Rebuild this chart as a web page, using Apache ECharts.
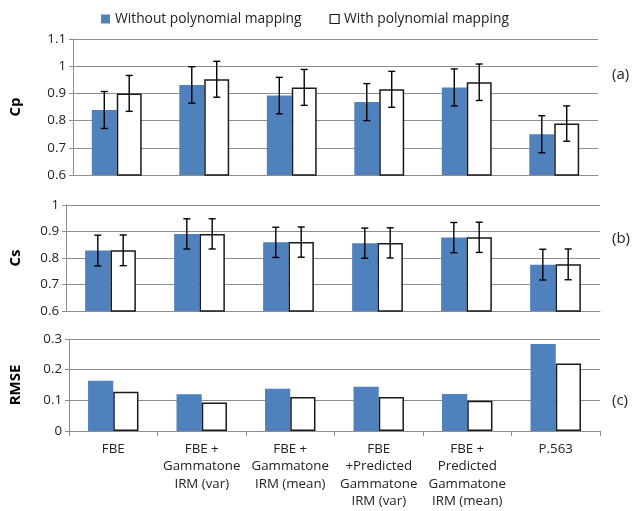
<!DOCTYPE html>
<html>
<head>
<meta charset="utf-8">
<script src="https://cdn.jsdelivr.net/npm/echarts@6/dist/echarts.min.js"></script>
<style>
html,body{margin:0;padding:0;background:#fff;}
#c{width:639px;height:511px;}
</style>
</head>
<body>
<div id="c"></div>
<script>
var categories = ['FBE', 'FBE +\nGammatone\nIRM (var)', 'FBE +\nGammatone\nIRM (mean)', 'FBE\n+Predicted\nGammatone\nIRM (var)', 'FBE +\nPredicted\nGammatone\nIRM (mean)', 'P.563'];
var seriesNames = ['Without polynomial mapping', 'With polynomial mapping'];
var panelLabels = ['(a)', '(b)', '(c)'];
var axisTitles = ['Cp', 'Cs', 'RMSE'];

var cpWithout = [0.839, 0.931, 0.892, 0.868, 0.922, 0.750];
var cpWith = [0.900, 0.952, 0.922, 0.915, 0.941, 0.789];
var cpWithoutErr = [0.068, 0.067, 0.067, 0.068, 0.068, 0.068];
var cpWithErr = [0.066, 0.066, 0.066, 0.066, 0.067, 0.065];

var csWithout = [0.828, 0.891, 0.859, 0.856, 0.877, 0.775];
var csWith = [0.829, 0.891, 0.860, 0.857, 0.878, 0.776];
var csWithoutErr = [0.058, 0.057, 0.057, 0.057, 0.057, 0.058];
var csWithErr = [0.058, 0.057, 0.057, 0.057, 0.057, 0.058];

var rmseWithout = [0.164, 0.120, 0.138, 0.144, 0.121, 0.284];
var rmseWith = [0.128, 0.093, 0.111, 0.111, 0.099, 0.220];

var BLUE = '#4f81bd';
var GRID = '#8e8e8e';
var FONT = 'Open Sans';

function errData(vals, errs) {
  return vals.map(function (v, i) { return [i, v - errs[i], v + errs[i]]; });
}
function errRender(sign) {
  return function (params, api) {
    var x = api.value(0);
    var lo = api.coord([x, api.value(1)]);
    var hi = api.coord([x, api.value(2)]);
    var band = api.size([1, 0])[0];
    var cx = lo[0] + sign * band * 0.1425;
    var cap = 3.5;
    var st = { stroke: '#000', lineWidth: 1.4, fill: null };
    return {
      type: 'group',
      children: [
        { type: 'line', shape: { x1: cx, y1: hi[1], x2: cx, y2: lo[1] }, style: st },
        { type: 'line', shape: { x1: cx - cap, y1: hi[1], x2: cx + cap, y2: hi[1] }, style: st },
        { type: 'line', shape: { x1: cx - cap, y1: lo[1], x2: cx + cap, y2: lo[1] }, style: st }
      ]
    };
  };
}

var grids = [
  { left: 68, right: 41, top: 39, height: 136 },
  { left: 61, right: 39, top: 205, height: 106 },
  { left: 61, right: 39, top: 339, height: 92 }
];
var yRanges = [[0.6, 1.1], [0.6, 1.0], [0, 0.3]];
var nameGaps = [50, 43, 46];

var xAxes = grids.map(function (g, i) {
  return {
    type: 'category', gridIndex: i, data: categories,
    axisLine: { show: true, lineStyle: { color: GRID, width: 1 } },
    axisTick: { show: i === 2, length: 5, lineStyle: { color: GRID } },
    axisLabel: {
      show: i === 2, color: '#222', fontFamily: FONT, fontSize: 13.3,
      lineHeight: 17.5, margin: 9, interval: 0
    }
  };
});
var yAxes = grids.map(function (g, i) {
  return {
    type: 'value', gridIndex: i, min: yRanges[i][0], max: yRanges[i][1], interval: 0.1,
    name: axisTitles[i], nameLocation: 'middle', nameRotate: 90, nameGap: nameGaps[i],
    nameTextStyle: { fontFamily: FONT, fontWeight: 'bold', fontSize: 15, color: '#000' },
    axisLine: { show: true, lineStyle: { color: GRID, width: 1 } },
    axisTick: { show: true, length: 4, lineStyle: { color: GRID } },
    axisLabel: { color: '#222', fontFamily: FONT, fontSize: 13.3, margin: 7 },
    splitLine: { show: true, lineStyle: { color: GRID, width: 1.2 } }
  };
});

var panelData = [
  [cpWithout, cpWith, cpWithoutErr, cpWithErr],
  [csWithout, csWith, csWithoutErr, csWithErr],
  [rmseWithout, rmseWith, null, null]
];

var series = [];
panelData.forEach(function (p, i) {
  series.push({
    name: seriesNames[0], type: 'bar', xAxisIndex: i, yAxisIndex: i, data: p[0],
    barGap: '0%', barCategoryGap: '43%',
    itemStyle: { color: BLUE }
  });
  series.push({
    name: seriesNames[1], type: 'bar', xAxisIndex: i, yAxisIndex: i, data: p[1],
    barGap: '0%', barCategoryGap: '43%',
    itemStyle: { color: '#fff', borderColor: '#1a1a1a', borderWidth: 1.5 }
  });
  if (p[2]) {
    series.push({
      type: 'custom', xAxisIndex: i, yAxisIndex: i, renderItem: errRender(-1),
      data: errData(p[0], p[2]), z: 5, silent: true
    });
    series.push({
      type: 'custom', xAxisIndex: i, yAxisIndex: i, renderItem: errRender(1),
      data: errData(p[1], p[3]), z: 5, silent: true
    });
  }
});

var labelY = [77, 241, 403];
var chart = echarts.init(document.getElementById('c'));
chart.setOption({
  animation: false,
  backgroundColor: '#fff',
  legend: {
    data: [
      { name: seriesNames[0], itemStyle: { color: BLUE } },
      { name: seriesNames[1], itemStyle: { color: '#fff', borderColor: '#1a1a1a', borderWidth: 1.2 } }
    ],
    top: 7, left: 96, icon: 'rect', itemWidth: 9, itemHeight: 9, itemGap: 28,
    textStyle: { fontFamily: FONT, fontSize: 13.8, color: '#222' }
  },
  grid: grids,
  xAxis: xAxes,
  yAxis: yAxes,
  series: series,
  graphic: panelLabels.map(function (t, i) {
    return {
      type: 'text', left: 612, top: labelY[i] - 10,
      style: { text: t, fontFamily: FONT, fontSize: 15, fill: '#222' }
    };
  })
});
</script>
</body>
</html>
